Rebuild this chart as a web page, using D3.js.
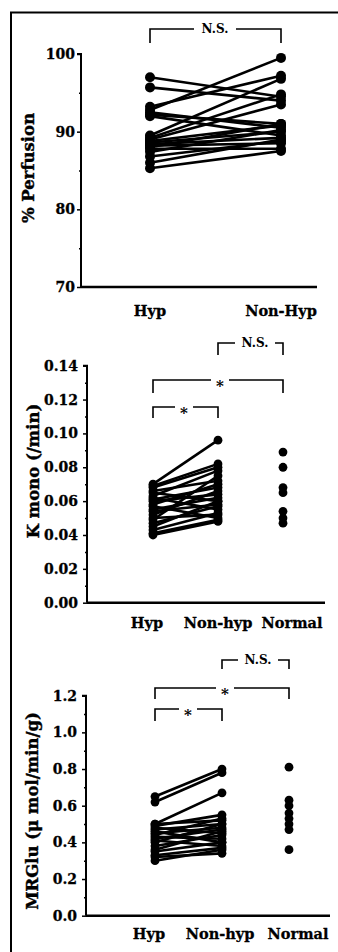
<!DOCTYPE html>
<html>
<head>
<meta charset="utf-8">
<script src="https://cdn.jsdelivr.net/npm/d3@7"></script>
<style>
  body { margin: 0; background: #fff; }
  svg { display: block; }
  .tick text { font-family: "DejaVu Serif", serif; font-weight: bold; font-size: 14px; fill: #000; }
</style>
</head>
<body>
<svg id="fig" width="338" height="952"></svg>
<script>
// ---- data ----
const perfusionCats = ["Hyp", "Non-Hyp"];
const perfusionHyp    = [97.0, 95.7, 93.2, 92.8, 92.5, 92.2, 92.0, 89.5, 89.2, 89.0, 88.8, 88.6, 88.4, 88.2, 88.0, 87.8, 87.4, 86.8, 86.0, 85.3];
const perfusionNonHyp = [94.5, 94.0, 97.2, 99.5, 90.5, 91.0, 89.5, 96.8, 94.8, 93.5, 90.8, 90.0, 89.2, 88.5, 91.0, 87.8, 90.2, 88.8, 89.0, 87.5];
const perfusionTicks = [70, 80, 90, 100];
const perfusionMinor = [75, 85, 95];

const groupCats = ["Hyp", "Non-hyp", "Normal"];
const kmonoHyp    = [0.070, 0.069, 0.068, 0.066, 0.065, 0.063, 0.062, 0.061, 0.060, 0.058, 0.057, 0.055, 0.054, 0.052, 0.050, 0.049, 0.047, 0.045, 0.043, 0.041, 0.040];
const kmonoNonHyp = [0.096, 0.082, 0.080, 0.072, 0.060, 0.078, 0.055, 0.068, 0.064, 0.070, 0.050, 0.062, 0.058, 0.066, 0.052, 0.075, 0.057, 0.060, 0.053, 0.049, 0.048];
const kmonoNormal = [0.089, 0.080, 0.068, 0.065, 0.054, 0.050, 0.047];
const kmonoTicks = [0, 0.02, 0.04, 0.06, 0.08, 0.10, 0.12, 0.14];
const kmonoMinor = [0.01, 0.03, 0.05, 0.07, 0.09, 0.11, 0.13];

const mrgluHyp    = [0.65, 0.62, 0.50, 0.50, 0.49, 0.48, 0.47, 0.46, 0.45, 0.44, 0.43, 0.42, 0.41, 0.40, 0.38, 0.36, 0.35, 0.33, 0.32, 0.30];
const mrgluNonHyp = [0.80, 0.78, 0.67, 0.52, 0.55, 0.45, 0.50, 0.40, 0.48, 0.53, 0.42, 0.47, 0.38, 0.50, 0.44, 0.46, 0.40, 0.37, 0.34, 0.36];
const mrgluNormal = [0.81, 0.63, 0.60, 0.56, 0.53, 0.50, 0.47, 0.36];
const mrgluTicks = [0, 0.2, 0.4, 0.6, 0.8, 1.0, 1.2];
const mrgluMinor = [0.1, 0.3, 0.5, 0.7, 0.9, 1.1];

const svg = d3.select("#fig");
const serif = "'DejaVu Serif', serif";

// outer frame (left and top only)
svg.append("path")
    .attr("d", "M11,952 V12.5 H338")
    .attr("fill", "none")
    .attr("stroke", "#000")
    .attr("stroke-width", 2);

function drawPanel(p) {
    const g = svg.append("g");
    const y = d3.scaleLinear().domain(p.yDomain).range([p.yBottom, p.yTop]);
    const x = d3.scaleLinear().domain([0, p.cats.length - 1]).range(p.xRange);

    // minor ticks
    g.append("g")
        .attr("transform", `translate(${p.axisX},0)`)
        .call(d3.axisLeft(y).tickValues(p.minor).tickSize(2).tickFormat(""))
        .call(a => a.select(".domain").remove())
        .call(a => a.selectAll("line").attr("stroke-width", 1.5));

    // major ticks + labels
    g.append("g")
        .attr("transform", `translate(${p.axisX},0)`)
        .call(d3.axisLeft(y).tickValues(p.ticks).tickSize(4).tickPadding(p.pad).tickFormat(p.fmt))
        .call(a => a.select(".domain").attr("stroke-width", 2).attr("d", `M-4,${y(p.yDomain[1])}H0V${y(p.yDomain[0])}`))
        .call(a => a.selectAll("line").attr("stroke-width", 1.5))
        .call(a => a.selectAll("text").attr("stroke", "#000").attr("stroke-width", 0.3));

    // x axis line
    g.append("line")
        .attr("x1", p.axisX).attr("x2", p.axisEnd)
        .attr("y1", y(p.yDomain[0])).attr("y2", y(p.yDomain[0]))
        .attr("stroke", "#000").attr("stroke-width", 2.5);

    // category labels
    g.selectAll(".cat")
        .data(p.cats)
        .join("text")
        .attr("class", "cat")
        .attr("x", (d, i) => x(i) + (p.catShift ? p.catShift[i] : 0))
        .attr("y", p.catY)
        .attr("text-anchor", "middle")
        .attr("font-family", serif)
        .attr("font-weight", "bold")
        .attr("font-size", 14.5)
        .attr("stroke", "#000")
        .attr("stroke-width", 0.3)
        .text(d => d);

    // y label
    g.append("text")
        .attr("transform", `translate(${p.labelX},${p.labelY}) rotate(-90)`)
        .attr("text-anchor", "middle")
        .attr("dy", "0.35em")
        .attr("font-family", serif)
        .attr("font-weight", "bold")
        .attr("font-size", 16.5)
        .attr("stroke", "#000")
        .attr("stroke-width", 0.4)
        .text(p.label);

    // paired lines
    const pairs = p.a.map((v, i) => [v, p.b[i]]);
    g.selectAll(".pair")
        .data(pairs)
        .join("line")
        .attr("x1", x(0)).attr("x2", x(1))
        .attr("y1", d => y(d[0])).attr("y2", d => y(d[1]))
        .attr("stroke", "#000").attr("stroke-width", 2.6);

    const pts = p.a.map(v => [0, v]).concat(p.b.map(v => [1, v]));
    if (p.c) p.c.forEach(v => pts.push([2, v]));
    g.selectAll(".dot")
        .data(pts)
        .join("circle")
        .attr("cx", d => x(d[0]))
        .attr("cy", d => y(d[1]))
        .attr("r", p.r)
        .attr("fill", "#000");

    // significance brackets
    p.brackets.forEach(b => {
        const x1 = x(b.from), x2 = x(b.to), xm = b.textX;
        const half = b.gap / 2;
        g.append("path")
            .attr("d", `M${x1},${b.legY}V${b.top}H${xm - half} M${xm + half},${b.top}H${x2}V${b.legY}`)
            .attr("fill", "none")
            .attr("stroke", "#000")
            .attr("stroke-width", 1.6);
        g.append("text")
            .attr("x", xm)
            .attr("y", b.top)
            .attr("dy", b.label === "*" ? "0.75em" : "0.36em")
            .attr("text-anchor", "middle")
            .attr("font-family", serif)
            .attr("font-size", b.label === "*" ? 15 : 12)
            .attr("font-weight", "bold")
            .text(b.label);
    });
}

drawPanel({
    cats: perfusionCats, a: perfusionHyp, b: perfusionNonHyp,
    yDomain: [70, 100], yTop: 54, yBottom: 287,
    xRange: [150, 281], axisX: 81, axisEnd: 317,
    ticks: perfusionTicks, minor: perfusionMinor, fmt: d3.format("d"), pad: 2,
    catY: 316, label: "% Perfusion", labelX: 28, labelY: 168, r: 5,
    brackets: [{ from: 0, to: 1, top: 29, legY: 43, textX: 215, gap: 42, label: "N.S." }]
});

drawPanel({
    cats: groupCats, a: kmonoHyp, b: kmonoNonHyp, c: kmonoNormal,
    yDomain: [0, 0.14], yTop: 365.7, yBottom: 602.7,
    xRange: [153, 283], axisX: 87, axisEnd: 325,
    ticks: kmonoTicks, minor: kmonoMinor, fmt: d3.format(".2f"), pad: 5,
    catY: 628, catShift: [-6, 0, 9], label: "K mono (/min)", labelX: 33, labelY: 471, r: 4.4,
    brackets: [
        { from: 1, to: 2, top: 343, legY: 355, textX: 255, gap: 40, label: "N.S." },
        { from: 0, to: 2, top: 380, legY: 393, textX: 220, gap: 18, label: "*" },
        { from: 0, to: 1, top: 407, legY: 418, textX: 184, gap: 18, label: "*" }
    ]
});

drawPanel({
    cats: groupCats, a: mrgluHyp, b: mrgluNonHyp, c: mrgluNormal,
    yDomain: [0, 1.2], yTop: 695.7, yBottom: 915.7,
    xRange: [155, 289], axisX: 86, axisEnd: 330,
    ticks: mrgluTicks, minor: mrgluMinor, fmt: d3.format(".1f"), pad: 5,
    catY: 939, catShift: [-6, -2, 9], label: "MRGlu (μ mol/min/g)", labelX: 32, labelY: 811, r: 4.4,
    brackets: [
        { from: 1, to: 2, top: 660, legY: 669, textX: 258, gap: 40, label: "N.S." },
        { from: 0, to: 2, top: 688, legY: 699, textX: 225, gap: 18, label: "*" },
        { from: 0, to: 1, top: 709, legY: 721, textX: 188, gap: 18, label: "*" }
    ]
});
</script>
</body>
</html>
